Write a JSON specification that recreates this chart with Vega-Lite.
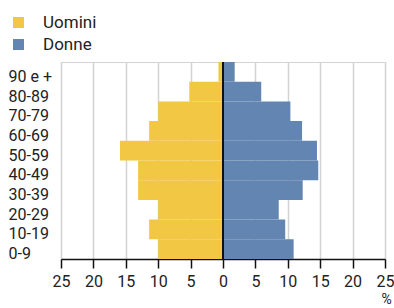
{
  "$schema": "https://vega.github.io/schema/vega-lite/v6.json",
  "width": 324,
  "height": 197,
  "autosize": {"type": "none"},
  "padding": {"left": 61, "top": 62, "right": 9, "bottom": 49},
  "config": {
    "font": "Roboto",
    "view": {"stroke": "#d3d3d3", "strokeWidth": 1}
  },
  "data": {
    "values": [
      {"eta": "0-9", "sesso": "Uomini", "pct": 10.0},
      {"eta": "10-19", "sesso": "Uomini", "pct": 11.4},
      {"eta": "20-29", "sesso": "Uomini", "pct": 10.0},
      {"eta": "30-39", "sesso": "Uomini", "pct": 13.1},
      {"eta": "40-49", "sesso": "Uomini", "pct": 13.1},
      {"eta": "50-59", "sesso": "Uomini", "pct": 15.9},
      {"eta": "60-69", "sesso": "Uomini", "pct": 11.4},
      {"eta": "70-79", "sesso": "Uomini", "pct": 10.0},
      {"eta": "80-89", "sesso": "Uomini", "pct": 5.2},
      {"eta": "90 e +", "sesso": "Uomini", "pct": 0.7},
      {"eta": "0-9", "sesso": "Donne", "pct": 10.9},
      {"eta": "10-19", "sesso": "Donne", "pct": 9.6},
      {"eta": "20-29", "sesso": "Donne", "pct": 8.6},
      {"eta": "30-39", "sesso": "Donne", "pct": 12.3},
      {"eta": "40-49", "sesso": "Donne", "pct": 14.7},
      {"eta": "50-59", "sesso": "Donne", "pct": 14.5},
      {"eta": "60-69", "sesso": "Donne", "pct": 12.2},
      {"eta": "70-79", "sesso": "Donne", "pct": 10.4},
      {"eta": "80-89", "sesso": "Donne", "pct": 5.9},
      {"eta": "90 e +", "sesso": "Donne", "pct": 1.8}
    ]
  },
  "transform": [
    {"calculate": "datum.sesso === 'Uomini' ? -datum.pct : datum.pct", "as": "val"}
  ],
  "layer": [
    {
      "mark": {"type": "bar"},
      "encoding": {
        "y": {
          "field": "eta",
          "type": "nominal",
          "sort": ["90 e +", "80-89", "70-79", "60-69", "50-59", "40-49", "30-39", "20-29", "10-19", "0-9"],
          "scale": {"paddingInner": 0, "paddingOuter": 0},
          "axis": {
            "title": null,
            "domain": false,
            "ticks": false,
            "tickSize": 0,
            "labelAlign": "left",
            "labelPadding": 53,
            "labelFontSize": 16,
            "labelColor": "#222222",
            "labelOffset": 5,
            "labelOverlap": false,
            "labelBound": false
          }
        },
        "x": {
          "field": "val",
          "type": "quantitative",
          "stack": null,
          "scale": {"domain": [-25, 25], "nice": false},
          "axis": {
            "values": [-25, -20, -15, -10, -5, 0, 5, 10, 15, 20, 25],
            "tickCount": 20,
            "labelExpr": "abs(datum.value)",
            "grid": true,
            "gridColor": "#d3d3d3",
            "gridWidth": 1.5,
            "domainColor": "#111111",
            "domainWidth": 1.5,
            "tickColor": "#111111",
            "tickWidth": 1.5,
            "tickSize": 9,
            "labelFontSize": 16,
            "labelColor": "#222222",
            "labelPadding": 5,
            "labelFlush": false,
            "labelOverlap": false,
            "labelBound": false,
            "title": "%",
            "titleFontSize": 14,
            "titleFontWeight": "normal",
            "titleColor": "#222222",
            "titleAlign": "center",
            "titleBaseline": "alphabetic",
            "titleX": 325,
            "titleY": 44
          }
        },
        "color": {
          "field": "sesso",
          "type": "nominal",
          "scale": {"domain": ["Uomini", "Donne"], "range": ["#f2c744", "#6285b1"]},
          "legend": {
            "title": null,
            "orient": "none",
            "legendX": -51,
            "legendY": -48,
            "symbolType": "square",
            "symbolSize": 121,
            "symbolStrokeWidth": 0,
            "labelFontSize": 17,
            "labelColor": "#222222",
            "labelOffset": 16,
            "rowPadding": 4
          }
        }
      }
    },
    {
      "mark": {"type": "rule", "color": "#111111", "strokeWidth": 1.5},
      "encoding": {"x": {"datum": 0}}
    }
  ]
}
